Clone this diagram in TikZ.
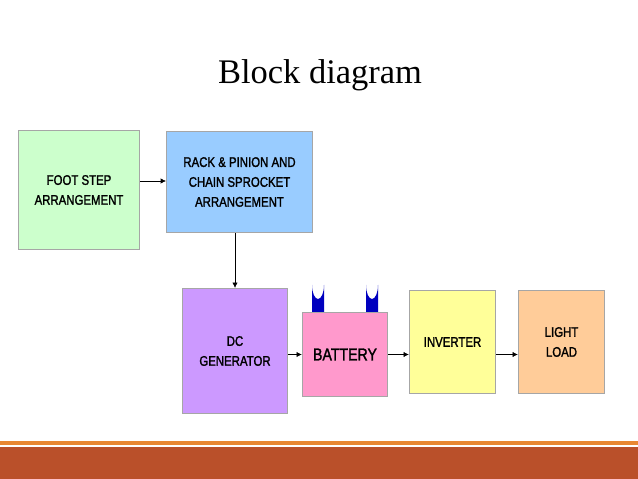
\documentclass[tikz,border=0pt]{standalone}
\usepackage{fontspec}
\setmainfont{Liberation Serif}
\newfontfamily\blkfont{Liberation Sans}[FakeBold=1.5,FakeStretch=0.82]
\usetikzlibrary{positioning,arrows.meta}
\tikzset{blk/.style={draw=gray!70,line width=0.6pt,align=center,font=\blkfont\fontsize{10.5}{15}\selectfont,inner sep=2pt},
  line/.style={draw,-{Latex[length=4pt,width=4pt]},line width=0.5pt}}
\definecolor{cgreen}{RGB}{204,255,204}
\definecolor{cblue}{RGB}{153,204,255}
\definecolor{cpurple}{RGB}{204,153,255}
\definecolor{cpink}{RGB}{255,153,204}
\definecolor{cyellow}{RGB}{255,255,153}
\definecolor{corange}{RGB}{255,204,153}
\definecolor{cbar}{RGB}{186,80,42}
\definecolor{cline}{RGB}{232,135,50}
\begin{document}
\begin{tikzpicture}[x=0.0265cm,y=-0.0265cm]
\useasboundingbox (0,0) rectangle (638,479);
\node (title) at (320,75) {\fontsize{26}{30}\selectfont Block diagram};
% blocks
\node[blk,fill=cgreen,minimum width=122*0.75pt,minimum height=119*0.75pt] (foot) at (79,190) {FOOT STEP\\ARRANGEMENT};
\node[blk,fill=cblue,minimum width=147*0.75pt,minimum height=102*0.75pt] (rack) at (239.5,182) {RACK \& PINION AND\\CHAIN SPROCKET\\ARRANGEMENT};
\node[blk,fill=cpurple,minimum width=106*0.75pt,minimum height=126*0.75pt] (gen) at (235,351) {DC\\GENERATOR};
\fill[blue!75!black] (312,312) -- (312,285) arc (180:0:6 and 14) -- (324,312) -- cycle;
\fill[blue!75!black] (366,312) -- (366,285) arc (180:0:6 and 14) -- (378,312) -- cycle;
\node[blk,fill=cpink,minimum width=86*0.75pt,minimum height=85*0.75pt,font=\blkfont\fontsize{13}{15}\selectfont] (bat) at (345,354.5) {BATTERY};
\node[blk,fill=cyellow,minimum width=87*0.75pt,minimum height=104*0.75pt] (inv) at (452.5,342) {INVERTER};
\node[blk,fill=corange,minimum width=87*0.75pt,minimum height=104*0.75pt] (load) at (561.5,342) {LIGHT\\LOAD};
% connectors
\path[line] (foot.east |- 0,181) -- (rack.west |- 0,181);
\path[line] (gen.north |- rack.south) -- (gen.north);
\path[line] (gen.east |- bat) -- (bat.west);
\path[line] (bat.east) -- (inv.west |- bat);
\path[line] (inv.east |- bat) -- (load.west |- bat);
% footer
\fill[cline] (0,441) rectangle (638,445);
\fill[cbar] (0,447) rectangle (638,479);
\end{tikzpicture}
\end{document}
